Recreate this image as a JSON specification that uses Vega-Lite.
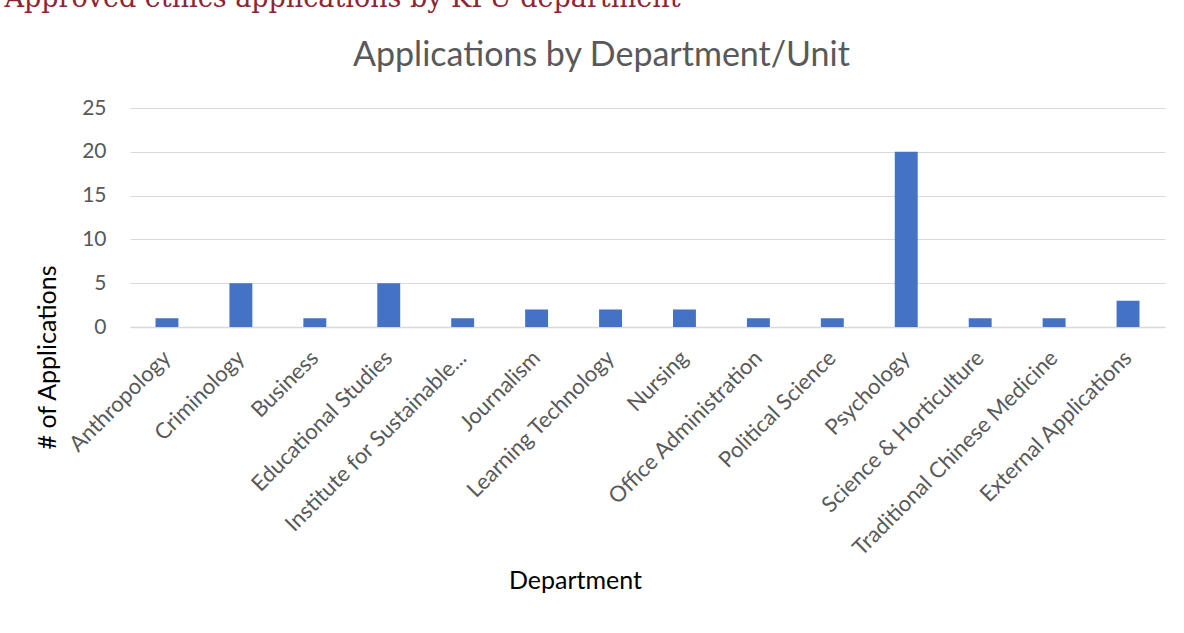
{
  "$schema": "https://vega.github.io/schema/vega-lite/v6.json",
  "width": 1035,
  "height": 219,
  "autosize": {"type": "none"},
  "padding": {"left": 130, "top": 108, "right": 19, "bottom": 306},
  "background": "white",
  "config": {"view": {"stroke": null}, "font": "Lato"},
  "data": {"values": [
    {"department": "Anthropology", "applications": 1},
    {"department": "Criminology", "applications": 5},
    {"department": "Business", "applications": 1},
    {"department": "Educational Studies", "applications": 5},
    {"department": "Institute for Sustainable...", "applications": 1},
    {"department": "Journalism", "applications": 2},
    {"department": "Learning Technology", "applications": 2},
    {"department": "Nursing", "applications": 2},
    {"department": "Office Administration", "applications": 1},
    {"department": "Political Science", "applications": 1},
    {"department": "Psychology", "applications": 20},
    {"department": "Science & Horticulture", "applications": 1},
    {"department": "Traditional Chinese Medicine", "applications": 1},
    {"department": "External Applications", "applications": 3}
  ]},
  "layer": [
    {
      "mark": {"type": "bar", "color": "#4472C4"},
      "encoding": {
        "x": {"field": "department", "type": "nominal", "sort": null,
          "scale": {"paddingInner": 0.69, "paddingOuter": 0.345},
          "axis": {"title": "Department", "labelAngle": -45, "labelAlign": "right", "labelBaseline": "middle",
            "labelFontSize": 22, "labelColor": "#595959", "labelPadding": 27, "labelLimit": 400,
            "ticks": false, "domainColor": "#d9d9d9", "domainWidth": 1.5,
            "titleFontSize": 25, "titleColor": "#000000", "titleFontWeight": "normal",
            "titleX": 445, "titleY": 253, "titleBaseline": "middle", "titleAlign": "center"}},
        "y": {"field": "applications", "type": "quantitative",
          "scale": {"domain": [0, 25], "nice": false},
          "axis": {"title": "# of Applications", "values": [0, 5, 10, 15, 20, 25], "domain": false, "ticks": false,
            "gridColor": "#d9d9d9", "gridWidth": 1, "labelFontSize": 21, "labelColor": "#595959", "labelPadding": 24,
            "titleX": -83, "titleY": 249, "titleAngle": -90, "titleBaseline": "middle", "titleAlign": "center",
            "titleFontSize": 25, "titleColor": "#000000", "titleFontWeight": "normal"}}
      }
    },
    {
      "mark": {"type": "bar", "opacity": 0},
      "encoding": {
        "x": {"field": "department", "type": "nominal", "sort": null,
          "axis": {"orient": "top", "title": "Applications by Department/Unit", "labels": false, "ticks": false,
            "domain": false, "grid": false, "titleX": 471, "titleY": -53, "titleAlign": "center",
            "titleBaseline": "middle", "titleFontSize": 34, "titleColor": "#595959", "titleFontWeight": "normal"}},
        "y": {"field": "applications", "type": "quantitative",
          "axis": {"orient": "right", "title": "Approved ethics applications by KPU department", "labels": false,
            "ticks": false, "domain": false, "grid": false, "titleX": -1161, "titleY": -102, "titleAngle": 0,
            "titleAlign": "left", "titleBaseline": "alphabetic", "titleFont": "DejaVu Serif", "titleFontSize": 27,
            "titleColor": "#8C2633", "titleFontWeight": "normal"}}
      }
    }
  ],
  "resolve": {"axis": {"x": "independent", "y": "independent"}}
}
